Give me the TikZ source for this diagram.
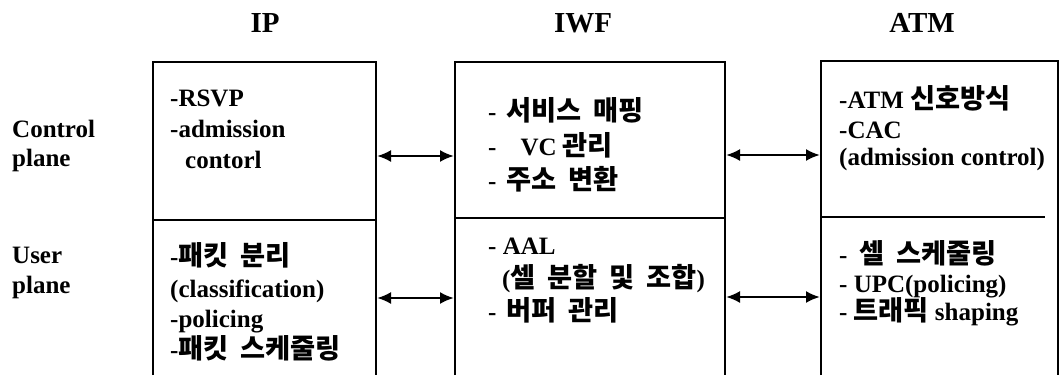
\documentclass[tikz,border=0pt]{standalone}
\usepackage{fontspec}
\setmainfont{Liberation Serif}
\newfontfamily\krfont{Noto Sans CJK KR}[Scale=1.09,WordSpace=1.9]
\newcommand{\kr}[1]{{\krfont\bfseries #1}}
\usetikzlibrary{arrows.meta}
\tikzset{
  txt/.style={anchor=base west, inner sep=0pt, font=\fontsize{25}{30}\selectfont\bfseries},
  hdr/.style={anchor=base, inner sep=0pt, font=\fontsize{29}{34}\selectfont\bfseries},
  panel/.style={draw=none, anchor=north west, inner sep=0pt, outer sep=0pt},
  boxline/.style={line width=2.6pt},
  conn/.style={line width=2.2pt, {Latex[length=14pt,width=12pt]}-{Latex[length=14pt,width=12pt]}},
}
\begin{document}
\begin{tikzpicture}[x=1pt,y=-1pt]
\useasboundingbox (0,0) rectangle (1060,375);
% headers
\node[hdr] (hIP) at (265,32) {IP};
\node[hdr] (hIWF) at (583,32) {IWF};
\node[hdr] (hATM) at (922,32) {ATM};
% left labels
\node[txt] (lc1) at (12,137) {Control};
\node[txt] (lc2) at (12,166) {plane};
\node[txt] (lu1) at (12,263) {User};
\node[txt] (lu2) at (12,293) {plane};
% panels
\node[panel, minimum width=223pt, minimum height=158pt] (ipC) at (153,62) {};
\node[panel, minimum width=223pt, minimum height=155pt] (ipU) at (153,220) {};
\node[panel, minimum width=270pt, minimum height=156pt] (iwfC) at (455,62) {};
\node[panel, minimum width=270pt, minimum height=157pt] (iwfU) at (455,218) {};
\node[panel, minimum width=237pt, minimum height=156pt] (atmC) at (821,61) {};
\node[panel, minimum width=237pt, minimum height=158pt] (atmU) at (821,217) {};
% box outlines
\draw[boxline] (ipU.south west) -- (ipC.north west) -- (ipC.north east) -- (ipU.south east);
\draw[boxline] (ipC.south west) -- (ipC.south east);
\draw[boxline] (iwfU.south west) -- (iwfC.north west) -- (iwfC.north east) -- (iwfU.south east);
\draw[boxline] (iwfC.south west) -- (iwfC.south east);
\draw[boxline] (atmU.south west) -- (atmC.north west) -- (atmC.north east) -- (atmU.south east);
\draw[boxline] (atmC.south west) -- ([xshift=-13pt]atmC.south east);
% connectors
\draw[conn] ([xshift=1pt]ipC.east |- 0,156) -- ([xshift=-1pt]iwfC.west |- 0,156);
\draw[conn] ([xshift=1pt]iwfC.east |- 0,155) -- ([xshift=-1pt]atmC.west |- 0,155);
\draw[conn] ([xshift=1pt]ipU.east |- 0,298) -- ([xshift=-1pt]iwfU.west |- 0,298);
\draw[conn] ([xshift=1pt]iwfU.east |- 0,297) -- ([xshift=-1pt]atmU.west |- 0,297);
% IP texts
\node[txt] (ip1) at (170,106) {-RSVP};
\node[txt] (ip2) at (170,137) {-admission};
\node[txt] (ip3) at (185,168) {contorl};
\node[txt] (ip4) at (170,265) {-\kr{패킷 분리}};
\node[txt] (ip5) at (170,297) {(classification)};
\node[txt] (ip6) at (170,327) {-policing};
\node[txt] (ip7) at (170,358) {-\kr{패킷 스케줄링}};
% IWF texts
\node[txt] (iw1) at (488,120) {-\hspace{10pt}\kr{서비스 매핑}};
\node[txt] (iw2) at (488,155) {-\hspace{24pt}VC \kr{관리}};
\node[txt] (iw3) at (488,189) {-\hspace{10pt}\kr{주소 변환}};
\node[txt] (iw4) at (488,254) {- AAL};
\node[txt] (iw5) at (502,287) {(\kr{셀 분할 및 조합})};
\node[txt] (iw6) at (488,320) {-\hspace{10pt}\kr{버퍼 관리}};
% ATM texts
\node[txt] (at1) at (839,108) {-ATM \kr{신호방식}};
\node[txt] (at2) at (839,138) {-CAC};
\node[txt] (at3) at (839,165) {(admission control)};
\node[txt] (at4) at (839,263) {-\hspace{12pt}\kr{셀 스케줄링}};
\node[txt] (at5) at (839,292) {- UPC(policing)};
\node[txt] (at6) at (839,320) {-\hspace{6pt}\kr{트래픽} shaping};
\end{tikzpicture}
\end{document}
